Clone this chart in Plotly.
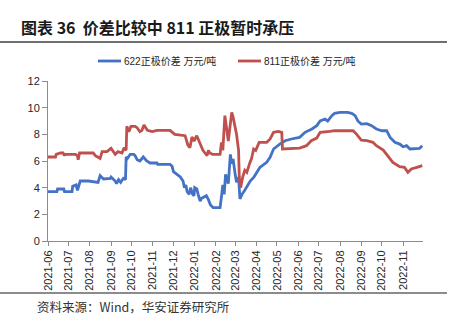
import pandas as pd
import plotly.graph_objects as go

START = "2021-06-01"

# 811 cathode price spread (10k CNY/t): day offset from 2021-06-01, value
red_days = [0, 11, 12, 18, 22, 24, 25, 40, 43, 44, 46, 66, 69, 76, 79, 86, 92, 98, 102, 108,
            111, 114, 115, 118, 121, 127, 130, 134, 137, 140, 145, 152, 159, 178, 185, 200, 204,
            207, 210, 213, 217, 222, 226, 229, 232, 234, 236, 240, 251, 253, 255, 258, 261, 263,
            266, 268, 270, 273, 275, 278, 279, 281, 284, 287, 290, 294, 297, 300, 303, 308, 319,
            324, 329, 336, 341, 342, 367, 377, 384, 392, 397, 411, 418, 445, 450, 457, 465, 474,
            479, 489, 496, 503, 513, 520, 525, 530, 538, 546]
red_vals = [6.3, 6.3, 6.5, 6.6, 6.6, 6.4, 6.5, 6.5, 6.4, 6.1, 6.6, 6.6, 6.4, 6.2, 6.7, 6.7, 6.95,
            6.5, 6.7, 6.6, 7.0, 6.8, 8.6, 8.2, 8.6, 8.6, 8.5, 8.2, 8.3, 8.7, 8.3, 8.2, 8.3, 8.3,
            8.0, 7.9, 7.2, 7.0, 7.8, 7.5, 7.9, 7.2, 6.8, 6.6, 6.4, 6.8, 6.6, 6.5, 6.5, 7.4, 6.8,
            9.4, 8.0, 7.5, 8.8, 9.65, 9.3, 8.5, 8.0, 6.8, 4.8, 4.0, 4.8, 5.3, 5.15, 5.8, 6.2, 6.9,
            6.8, 7.4, 7.4, 7.65, 8.15, 8.22, 8.15, 6.9, 6.97, 7.15, 7.52, 7.72, 8.15, 8.22, 8.27,
            8.27, 8.02, 7.57, 7.52, 7.4, 7.15, 6.82, 6.4, 5.9, 5.57, 5.52, 5.15, 5.4, 5.52, 5.65]

# 622 cathode price spread (10k CNY/t)
blue_days = [0, 13, 14, 23, 24, 35, 36, 41, 43, 45, 47, 59, 73, 76, 81, 91, 92, 98, 100, 103,
             106, 110, 113, 114, 116, 120, 125, 127, 130, 134, 139, 144, 149, 159, 160, 178, 181,
             183, 188, 193, 197, 199, 201, 203, 206, 208, 211, 213, 214, 217, 219, 222, 224, 228,
             231, 234, 237, 241, 251, 253, 255, 257, 259, 263, 266, 268, 270, 273, 275, 278, 280,
             283, 287, 295, 300, 309, 319, 324, 329, 338, 346, 355, 367, 375, 385, 392, 397, 404,
             408, 414, 418, 426, 437, 443, 448, 452, 457, 465, 472, 479, 487, 494, 499, 506, 513,
             518, 523, 528, 537, 542, 546]
blue_vals = [3.7, 3.7, 3.9, 3.9, 3.7, 3.7, 4.1, 4.2, 3.8, 4.2, 4.5, 4.5, 4.4, 4.9, 4.65, 4.7,
             4.8, 4.5, 4.3, 4.6, 4.4, 4.7, 4.6, 6.3, 6.2, 6.5, 6.5, 6.4, 6.1, 6.0, 6.3, 6.0, 5.85,
             5.85, 5.75, 5.75, 5.6, 5.2, 5.0, 4.8, 4.5, 4.0, 4.2, 3.7, 3.5, 4.0, 3.5, 3.4, 4.0, 3.9,
             3.5, 3.0, 3.2, 3.3, 3.4, 3.1, 2.7, 2.5, 2.5, 3.3, 4.2, 3.5, 5.0, 4.3, 6.5, 5.8, 6.15,
             5.0, 4.4, 4.78, 3.15, 3.5, 3.8, 4.5, 4.77, 5.52, 5.9, 6.27, 6.9, 7.27, 7.52, 7.65,
             7.77, 8.15, 8.4, 8.65, 9.0, 9.15, 9.0, 9.4, 9.57, 9.65, 9.65, 9.57, 9.4, 9.0, 8.77,
             8.8, 8.65, 8.4, 8.27, 8.27, 7.77, 7.4, 7.27, 7.07, 7.15, 6.9, 6.95, 6.95, 7.15]

series_names = ["622正极价差 万元/吨", "811正极价差 万元/吨"]
title_text = "图表 36  价差比较中 811 正极暂时承压"
source_text = "资料来源：Wind，华安证券研究所"
y_ticks = [0, 2, 4, 6, 8, 10, 12]

start = pd.Timestamp(START)
blue_x = [start + pd.Timedelta(days=d) for d in blue_days]
red_x = [start + pd.Timedelta(days=d) for d in red_days]

BLUE = "#4472C4"
RED = "#C0504D"
colors = [BLUE, RED]

fig = go.Figure()
fig.add_trace(go.Scatter(x=blue_x, y=blue_vals, mode="lines", name=series_names[0],
                         line=dict(color=BLUE, width=2.8)))
fig.add_trace(go.Scatter(x=red_x, y=red_vals, mode="lines", name=series_names[1],
                         line=dict(color=RED, width=2.8)))

axis_col = "#8C8C8C"
tick_font = dict(family="Liberation Sans, Arial, sans-serif", size=11, color="#262626")

# plot area geometry (pixels) used to place legend/decoration in paper coords
L, R, T, B = 48, 423, 81, 241
W, H = R - L, B - T


def px(xp):
    return (xp - L) / W


def py(yp):
    return (B - yp) / H


shapes = [
    dict(type="line", xref="paper", yref="paper", x0=px(0), x1=px(447),
         y0=py(42), y1=py(42), line=dict(color="#404040", width=1.5)),
    dict(type="line", xref="paper", yref="paper", x0=px(0), x1=px(447),
         y0=py(293), y1=py(293), line=dict(color="#8C8C8C", width=2)),
]
annotations = [
    dict(text=source_text, xref="paper", yref="paper", x=px(35), y=py(306),
         xanchor="left", yanchor="middle", showarrow=False,
         font=dict(family="Noto Sans CJK SC", size=12.5, color="#333333")),
]
legend_x = [98, 238]
for i, name in enumerate(series_names):
    x0 = legend_x[i]
    shapes.append(dict(type="line", xref="paper", yref="paper", x0=px(x0), x1=px(x0 + 23),
                       y0=py(61), y1=py(61), line=dict(color=colors[i], width=2.8)))
    annotations.append(dict(text=name, xref="paper", yref="paper", x=px(x0 + 24), y=py(61),
                            xanchor="left", yanchor="middle", showarrow=False,
                            font=dict(family="Liberation Sans, Noto Sans CJK SC", size=10,
                                      color="#262626")))

fig.update_layout(
    width=456, height=332,
    margin=dict(l=L, r=456 - R, t=T, b=332 - B),
    paper_bgcolor="white", plot_bgcolor="white",
    showlegend=False,
    title=dict(text=title_text, xref="container", yref="container",
               x=21 / 456, xanchor="left", y=(332 - 28) / 332, yanchor="middle",
               font=dict(family="Noto Sans CJK SC", size=16, color="#1a1a1a", weight="bold")),
    xaxis=dict(range=[start, start + pd.Timedelta(days=547)], type="date",
               tick0=START, dtick="M1", tickformat="%Y-%m", tickangle=-90,
               ticks="outside", ticklen=4, tickcolor=axis_col, showline=True,
               linecolor=axis_col, linewidth=1, showgrid=False, zeroline=False,
               tickfont=tick_font),
    yaxis=dict(range=[0, 12], tickvals=y_ticks, ticks="outside", ticklen=5,
               tickcolor=axis_col, showline=True, linecolor=axis_col, linewidth=1,
               showgrid=False, zeroline=False, tickfont=tick_font),
    shapes=shapes,
    annotations=annotations,
)

fig.write_html("out.html")
